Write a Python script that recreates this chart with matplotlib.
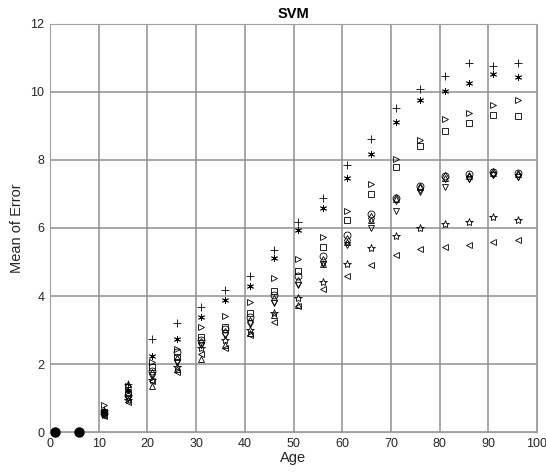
import matplotlib
matplotlib.use('Agg')
import matplotlib.pyplot as plt

plt.rcParams['font.family'] = ['Liberation Sans', 'DejaVu Sans']

# ages where the methods were evaluated
ages = [11, 16, 21, 26, 31, 36, 41, 46, 51, 56, 61, 66, 71, 76, 81, 86, 91, 96]
zero_ages = [1, 6]
zero_err = [0, 0]

# mean error per marker series
err_plus = [0.65, 1.40, 2.73, 3.21, 3.67, 4.18, 4.59, 5.35, 6.17, 6.87, 7.85, 8.61, 9.52, 10.08, 10.47, 10.86, 10.75, 10.86]
err_aster = [0.60, 1.25, 2.24, 2.75, 3.37, 3.88, 4.29, 5.11, 5.93, 6.58, 7.48, 8.18, 9.13, 9.77, 10.03, 10.25, 10.52, 10.45]
err_right = [0.78, 1.35, 2.05, 2.45, 3.10, 3.41, 3.83, 4.52, 5.09, 5.75, 6.51, 7.28, 8.03, 8.60, 9.20, 9.37, 9.62, 9.76]
err_square = [0.60, 1.15, 1.90, 2.22, 2.79, 3.10, 3.49, 4.16, 4.74, 5.43, 6.24, 7.00, 7.80, 8.41, 8.86, 9.08, 9.32, 9.29]
err_circle = [0.58, 1.10, 1.78, 2.36, 2.71, 3.02, 3.39, 4.03, 4.58, 5.18, 5.79, 6.41, 6.88, 7.23, 7.53, 7.59, 7.66, 7.63]
err_up = [0.62, 1.42, 1.35, 1.85, 2.15, 2.55, 2.90, 3.45, 3.75, 4.95, 5.60, 6.24, 6.86, 7.20, 7.47, 7.53, 7.62, 7.58]
err_diamond = [0.55, 1.05, 1.70, 2.12, 2.61, 2.92, 3.25, 3.88, 4.42, 5.04, 5.65, 6.30, 6.85, 7.17, 7.50, 7.51, 7.61, 7.56]
err_down = [0.52, 1.00, 1.68, 2.05, 2.55, 2.85, 3.20, 3.79, 4.33, 4.94, 5.50, 5.99, 6.49, 7.07, 7.22, 7.44, 7.56, 7.51]
err_pent = [0.50, 0.95, 1.52, 1.92, 2.46, 2.71, 3.00, 3.49, 3.95, 4.42, 4.94, 5.40, 5.77, 6.00, 6.12, 6.18, 6.31, 6.24]
err_left = [0.48, 0.88, 1.50, 1.77, 2.29, 2.46, 2.85, 3.25, 3.70, 4.20, 4.59, 4.91, 5.20, 5.38, 5.45, 5.50, 5.60, 5.65]

series = [
    (err_plus, '+', 6),
    (err_aster, (6, 2, 0), 5),
    (err_right, '>', 5),
    (err_square, 's', 4),
    (err_circle, 'o', 5),
    (err_up, '^', 5),
    (err_diamond, 'd', 5),
    (err_down, 'v', 5),
    (err_pent, '*', 6),
    (err_left, '<', 5),
]

fig = plt.figure(figsize=(5.46, 4.75), dpi=100)
ax = fig.add_axes([0.0916, 0.0905, 0.892, 0.859])

for vals, mk, ms in series:
    ax.plot(ages, vals, linestyle='none', marker=mk, markersize=ms,
            markerfacecolor='none', markeredgecolor='black', markeredgewidth=0.6)

ax.plot(zero_ages, zero_err, linestyle='none', marker='o', markersize=6.5,
        color='black', clip_on=False, zorder=5)

ax.set_xlim(0, 100)
ax.set_ylim(0, 12)
ax.set_xticks(range(0, 101, 10))
ax.set_yticks(range(0, 13, 2))
ax.grid(True, color='#8f8f8f', linewidth=1.1)
ax.set_axisbelow(True)
for s in ax.spines.values():
    s.set_color('#a0a0a0')
    s.set_linewidth(0.8)
ax.tick_params(direction='in', length=0, labelsize=9, colors='#262626', pad=4)

ax.set_xlabel('Age', fontsize=10.5, color='#262626', labelpad=1)
ax.set_ylabel('Mean of Error', fontsize=10.5, color='#262626', labelpad=5)
ax.set_title('SVM', fontsize=10.5, fontweight='bold', pad=4)

fig.savefig('out.png', dpi=100)
